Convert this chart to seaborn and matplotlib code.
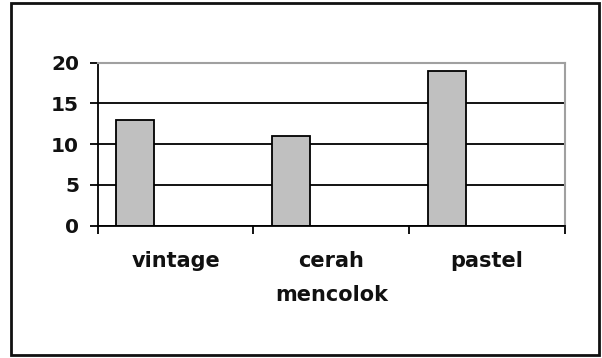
import matplotlib
matplotlib.use("Agg")
import matplotlib.pyplot as plt
import seaborn as sns
import pandas as pd
from matplotlib.patches import Rectangle

categories = ["vintage", "cerah\nmencolok", "pastel"]
values = [13, 11, 19]
yticks = [0, 5, 10, 15, 20]

sns.set_theme(style="white")
plt.rcParams["font.family"] = ["DejaVu Sans"]

df = pd.DataFrame({"cat": categories, "val": values})

fig = plt.figure(figsize=(6.02, 3.58), dpi=100)
ax = fig.add_axes([97.7 / 602, 1 - 225.7 / 358, (565 - 97.7) / 602, (225.7 - 62.7) / 358])

sns.barplot(data=df, x="cat", y="val", ax=ax, color="#c0c0c0",
            edgecolor="black", linewidth=1.3, width=0.245, saturation=1)

ax.set_xlim(-0.24, 2.76)
ax.set_ylim(0, 20)
ax.set_xlabel("")
ax.set_ylabel("")

# category labels centred in slots, ticks at slot boundaries
ax.set_xticks([i + 0.26 for i in range(len(categories))])
ax.set_xticklabels(categories, fontsize=15, fontweight="bold", color="#111111")
ax.set_xticks([i - 0.24 for i in range(len(categories) + 1)], minor=True)
ax.tick_params(axis="x", which="major", length=0, pad=18)
ax.tick_params(axis="x", which="minor", length=6, width=1.3, color="black", direction="out", bottom=True)
for lab in ax.get_xticklabels():
    lab.set_linespacing(1.9)

ax.set_yticks(yticks)
ax.set_yticklabels([str(v) for v in yticks], fontsize=14.5, fontweight="bold", color="#111111")
ax.tick_params(axis="y", which="major", length=5.5, width=1.3, color="black", direction="out", left=True, pad=8)

ax.set_axisbelow(True)
ax.yaxis.grid(True, color="black", linewidth=1.3)
ax.xaxis.grid(False)
ax.get_ygridlines()[-1].set_color("#a0a0a0")

for side in ["left", "bottom"]:
    ax.spines[side].set_color("black")
    ax.spines[side].set_linewidth(1.3)
for side in ["top", "right"]:
    ax.spines[side].set_color("#a0a0a0")
    ax.spines[side].set_linewidth(1.5)

fig.patches.append(Rectangle((11 / 602, 3 / 358), (599 - 11) / 602, (355 - 3) / 358,
                             transform=fig.transFigure, fill=False,
                             edgecolor="#111111", linewidth=2))

fig.savefig("out.png", dpi=100)
